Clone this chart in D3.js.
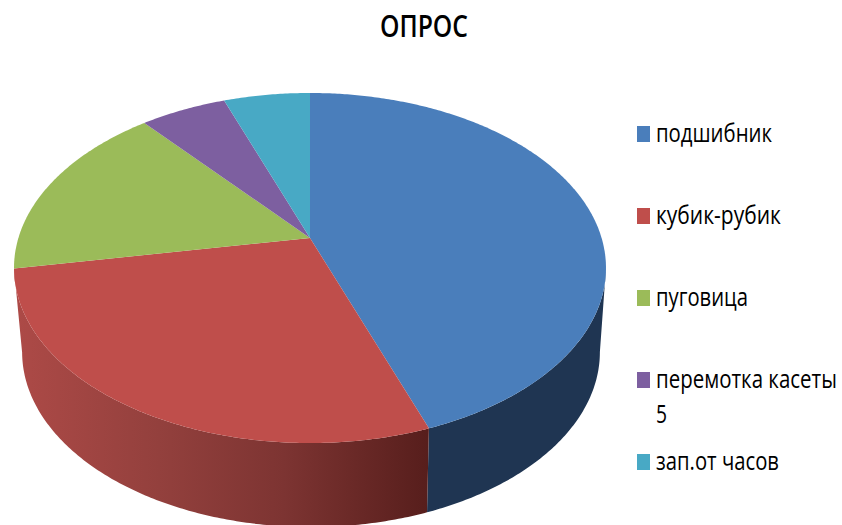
<!DOCTYPE html>
<html>
<head>
<meta charset="utf-8">
<script src="https://cdn.jsdelivr.net/npm/d3@7"></script>
<style>
html, body { margin: 0; padding: 0; background: #fff; }
svg { display: block; }
text { font-family: "Open Sans", "Noto Sans", sans-serif; fill: #000; }
</style>
</head>
<body>
<div id="chart"></div>
<script>
// chart data
var title = "ОПРОС";
var categories = ["подшибник", "кубик-рубик", "пуговица", "перемотка касеты 5", "зап.от часов"];
var values = [8, 5, 3, 1, 1];
var colors = ["#4a7ebb", "#bf4e4b", "#9bbb59", "#7d5fa0", "#48a9c5"];

var width = 842, height = 525;

// the pie is a tilted disc, so the centre sits above the middle of the ellipse
var cx = 310, cy = 238;
var radiusX = 291.6, radiusY = 169.9, tilt = 0.1715;
var depth = 84, bottomScale = 0.976;

var svg = d3.select("#chart").append("svg")
    .attr("width", width)
    .attr("height", height);

// a = clockwise from top, level 0 = top face, 1 = bottom face
function project(a, r, level) {
    var u = Math.sin(a) * r, v = Math.cos(a) * r;
    var w = 1 + tilt * v;
    var sx = level ? bottomScale : 1;
    return [cx + (level ? 1 : 0) + radiusX * sx * u / w,
            cy + (level ? depth : 0) - radiusY * v / w];
}

function arcPoints(a0, a1, level) {
    var n = Math.max(2, Math.ceil(Math.abs(a1 - a0) / 0.01));
    return d3.range(n + 1).map(function (i) {
        return project(a0 + (a1 - a0) * i / n, 1, level);
    });
}

// squeeze a text to the width it has in the picture
function fitText(sel, x, y, w) {
    var natural = sel.node().getComputedTextLength();
    sel.attr("transform", "translate(" + x + "," + y + ") scale(" + (w / natural) + ",1)");
}

var line = d3.line();
var slices = d3.pie().sort(null)(values);

// side wall shading
var defs = svg.append("defs");
var redSide = defs.append("linearGradient")
    .attr("id", "redSide")
    .attr("gradientUnits", "userSpaceOnUse")
    .attr("x1", 15).attr("x2", 428).attr("y1", 0).attr("y2", 0);
redSide.append("stop").attr("offset", "0").attr("stop-color", "#ad4a47");
redSide.append("stop").attr("offset", "0.35").attr("stop-color", "#93403d");
redSide.append("stop").attr("offset", "0.65").attr("stop-color", "#7d3432");
redSide.append("stop").attr("offset", "1").attr("stop-color", "#571e1c");

var sideFill = ["#1f3552", "url(#redSide)"];

// only the front of the disc shows a wall
var wallFrom = Math.PI / 2 + Math.asin(tilt);
var wallTo = 2 * Math.PI - wallFrom;

svg.append("g").selectAll("path")
    .data(slices.slice(0, 2))
    .join("path")
    .attr("fill", function (d, i) { return sideFill[i]; })
    .attr("d", function (d) {
        var a0 = Math.max(d.startAngle, wallFrom),
            a1 = Math.min(d.endAngle, wallTo);
        return line(arcPoints(a0, a1, 0).concat(arcPoints(a1, a0, 1))) + "Z";
    });

// top face
svg.append("g").selectAll("path")
    .data(slices)
    .join("path")
    .attr("fill", function (d, i) { return colors[i]; })
    .attr("d", function (d) {
        return line([project(0, 0, 0)].concat(arcPoints(d.startAngle, d.endAngle, 0))) + "Z";
    });

// title
svg.append("text")
    .attr("font-size", 31)
    .attr("font-weight", 600)
    .text(title)
    .call(fitText, 380, 37, 88);

// legend, the long entry wraps onto a second line
var legendBase = [142, 224, 306, 388, 470];
var legendLines = [
    [{ t: "подшибник", w: 116 }],
    [{ t: "кубик-рубик", w: 125 }],
    [{ t: "пуговица", w: 92 }],
    [{ t: "перемотка касеты", w: 181 }, { t: "5", w: 11 }],
    [{ t: "зап.от часов", w: 123 }]
];

var legend = svg.append("g").selectAll("g")
    .data(categories)
    .join("g");

legend.append("rect")
    .attr("x", 637)
    .attr("y", function (d, i) { return legendBase[i] - 16; })
    .attr("width", 13)
    .attr("height", 16)
    .attr("fill", function (d, i) { return colors[i]; });

legend.each(function (d, i) {
    d3.select(this).selectAll("text")
        .data(legendLines[i])
        .join("text")
        .attr("font-size", 25)
        .text(function (l) { return l.t; })
        .each(function (l, j) {
            d3.select(this).call(fitText, 656, legendBase[i] + j * 35, l.w);
        });
});
</script>
</body>
</html>
